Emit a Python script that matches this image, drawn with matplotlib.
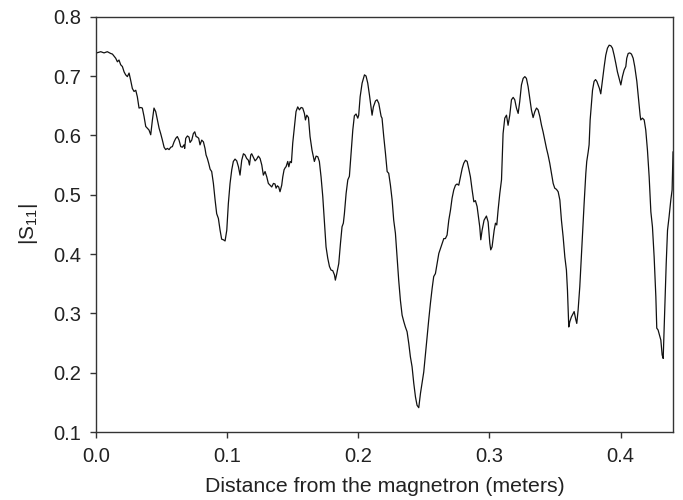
import matplotlib
matplotlib.use("Agg")
import matplotlib.pyplot as plt

plt.rcParams['font.family'] = ['Liberation Sans', 'DejaVu Sans']
plt.rcParams['mathtext.fontset'] = 'custom'
plt.rcParams['mathtext.rm'] = 'Liberation Sans'
plt.rcParams['mathtext.it'] = 'Liberation Sans'

# distance from the magnetron (m) and |S11|
dist = [
    0.0005, 0.0036, 0.0061, 0.0086, 0.0112, 0.0125, 0.0150, 0.0163, 0.0175, 0.0188,
    0.0201, 0.0214, 0.0226, 0.0239, 0.0252, 0.0264, 0.0277, 0.0290, 0.0303, 0.0315,
    0.0328, 0.0341, 0.0353, 0.0366, 0.0379, 0.0392, 0.0404, 0.0417, 0.0430, 0.0442,
    0.0455, 0.0468, 0.0481, 0.0493, 0.0506, 0.0519, 0.0531, 0.0544, 0.0557, 0.0570,
    0.0582, 0.0595, 0.0608, 0.0620, 0.0633, 0.0646, 0.0658, 0.0671, 0.0676, 0.0684,
    0.0697, 0.0709,
    0.0717, 0.0730, 0.0742, 0.0753, 0.0763, 0.0773, 0.0783, 0.0793, 0.0806, 0.0819,
    0.0831, 0.0839, 0.0849, 0.0859, 0.0870, 0.0882, 0.0895, 0.0908, 0.0920, 0.0933,
    0.0946, 0.0958, 0.0971, 0.0984, 0.0997, 0.1009, 0.1022, 0.1035, 0.1047, 0.1060,
    0.1073, 0.1086, 0.1098, 0.1111, 0.1124, 0.1136, 0.1149, 0.1162, 0.1170, 0.1180,
    0.1187, 0.1200, 0.1213, 0.1225, 0.1238, 0.1251, 0.1264, 0.1276, 0.1289, 0.1302,
    0.1314, 0.1327, 0.1340, 0.1353, 0.1365, 0.1373, 0.1383, 0.1393, 0.1403, 0.1416,
    0.1424, 0.1434, 0.1444,
    0.1449, 0.1462, 0.1470, 0.1480, 0.1490, 0.1500, 0.1513, 0.1525, 0.1538, 0.1551,
    0.1564, 0.1576, 0.1589, 0.1597, 0.1607, 0.1620, 0.1632, 0.1647, 0.1665, 0.1678,
    0.1691, 0.1703, 0.1716, 0.1729, 0.1742, 0.1754, 0.1767, 0.1780, 0.1792, 0.1805,
    0.1818, 0.1825, 0.1836, 0.1851, 0.1864, 0.1876, 0.1886, 0.1894, 0.1907, 0.1920,
    0.1932, 0.1945, 0.1958, 0.1970, 0.1983, 0.1996, 0.2003, 0.2014, 0.2029, 0.2047,
    0.2059, 0.2072, 0.2085, 0.2097, 0.2105, 0.2115, 0.2131, 0.2143, 0.2156, 0.2174,
    0.2181, 0.2194, 0.2207, 0.2220, 0.2232, 0.2245, 0.2258, 0.2270, 0.2283, 0.2296,
    0.2308, 0.2321, 0.2334, 0.2347, 0.2359, 0.2372, 0.2385, 0.2397, 0.2410, 0.2423,
    0.2436, 0.2448, 0.2461, 0.2474, 0.2486, 0.2499, 0.2512, 0.2525, 0.2537, 0.2550,
    0.2563, 0.2575, 0.2588, 0.2601, 0.2614, 0.2626, 0.2639, 0.2652, 0.2664, 0.2677,
    0.2690, 0.2703, 0.2715, 0.2728, 0.2741, 0.2753, 0.2766, 0.2779, 0.2792, 0.2804,
    0.2817, 0.2830, 0.2842, 0.2855, 0.2868, 0.2881, 0.2893, 0.2906, 0.2919,
    0.2926, 0.2934, 0.2944, 0.2959, 0.2977, 0.2990, 0.3003, 0.3010, 0.3020, 0.3036,
    0.3046, 0.3056, 0.3066, 0.3079, 0.3092, 0.3104, 0.3117, 0.3130, 0.3142, 0.3155,
    0.3168, 0.3181, 0.3193, 0.3206, 0.3219, 0.3231, 0.3244, 0.3257, 0.3270, 0.3282,
    0.3295, 0.3308, 0.3320, 0.3333, 0.3346, 0.3359, 0.3371, 0.3384, 0.3397, 0.3409,
    0.3422, 0.3435, 0.3447, 0.3460, 0.3473, 0.3486, 0.3498, 0.3511, 0.3524, 0.3537,
    0.3549, 0.3562, 0.3575, 0.3587, 0.3595, 0.3605, 0.3613, 0.3625,
    0.3646, 0.3659, 0.3666, 0.3676, 0.3689, 0.3697, 0.3709, 0.3722, 0.3735, 0.3742,
    0.3753, 0.3760, 0.3768, 0.3778, 0.3786, 0.3798, 0.3809, 0.3819, 0.3829, 0.3839,
    0.3849, 0.3862, 0.3875, 0.3887, 0.3900, 0.3913, 0.3926, 0.3938, 0.3951, 0.3964,
    0.3976, 0.3989, 0.4002, 0.4014, 0.4027, 0.4040, 0.4047, 0.4058, 0.4070, 0.4083,
    0.4096, 0.4108, 0.4124, 0.4137, 0.4149, 0.4154, 0.4167, 0.4180, 0.4192, 0.4205,
    0.4218, 0.4231, 0.4243, 0.4256, 0.4269, 0.4276, 0.4286, 0.4297, 0.4307, 0.4317,
    0.4325, 0.4332, 0.4340, 0.4348, 0.4358, 0.4370, 0.4383, 0.4393, 0.4400,
]

s11 = [
    0.739, 0.741, 0.739, 0.741, 0.738, 0.737, 0.730, 0.724, 0.727, 0.719,
    0.716, 0.707, 0.702, 0.699, 0.705, 0.693, 0.679, 0.674, 0.676, 0.665,
    0.646, 0.647, 0.646, 0.632, 0.615, 0.612, 0.609, 0.601, 0.626, 0.646,
    0.640, 0.626, 0.612, 0.603, 0.592, 0.580, 0.576, 0.578, 0.576, 0.580,
    0.581, 0.589, 0.595, 0.598, 0.592, 0.581, 0.580, 0.584, 0.578, 0.595,
    0.599, 0.597,
    0.588, 0.592, 0.603, 0.606, 0.598, 0.597, 0.595, 0.584, 0.592, 0.589,
    0.578, 0.567, 0.561, 0.553, 0.543, 0.539, 0.519, 0.491, 0.468, 0.460,
    0.440, 0.425, 0.424, 0.422, 0.440, 0.485, 0.519, 0.542, 0.556, 0.560,
    0.557, 0.547, 0.533, 0.558, 0.569, 0.567, 0.561, 0.558, 0.550, 0.567,
    0.569, 0.563, 0.557, 0.560, 0.565, 0.561, 0.550, 0.533, 0.539, 0.530,
    0.519, 0.516, 0.513, 0.519, 0.518, 0.511, 0.515, 0.513, 0.505, 0.516,
    0.530, 0.542, 0.546,
    0.547, 0.556, 0.547, 0.556, 0.554, 0.587, 0.615, 0.640, 0.648, 0.643,
    0.647, 0.646, 0.637, 0.626, 0.634, 0.630, 0.598, 0.575, 0.556, 0.565,
    0.564, 0.556, 0.530, 0.497, 0.452, 0.412, 0.393, 0.379, 0.373, 0.372,
    0.365, 0.356, 0.367, 0.384, 0.418, 0.446, 0.452, 0.468, 0.502, 0.525,
    0.531, 0.570, 0.609, 0.633, 0.636, 0.629, 0.634, 0.665, 0.688, 0.702,
    0.700, 0.688, 0.668, 0.648, 0.634, 0.648, 0.658, 0.660, 0.654, 0.632,
    0.629, 0.598, 0.570, 0.539, 0.536, 0.516, 0.491, 0.457, 0.435, 0.395,
    0.356, 0.322, 0.297, 0.286, 0.277, 0.269, 0.249, 0.227, 0.210, 0.182,
    0.159, 0.145, 0.141, 0.165, 0.182, 0.201, 0.232, 0.261, 0.289, 0.317,
    0.342, 0.362, 0.367, 0.384, 0.401, 0.409, 0.418, 0.426, 0.426, 0.432,
    0.457, 0.474, 0.494, 0.508, 0.516, 0.518, 0.516, 0.530, 0.544, 0.553,
    0.558, 0.556, 0.544, 0.530, 0.508, 0.488, 0.490, 0.480, 0.457,
    0.446, 0.424, 0.440, 0.457, 0.464, 0.454, 0.418, 0.407, 0.412, 0.440,
    0.452, 0.449, 0.474, 0.502, 0.525, 0.603, 0.629, 0.634, 0.617, 0.634,
    0.660, 0.664, 0.660, 0.646, 0.637, 0.657, 0.685, 0.696, 0.699, 0.696,
    0.682, 0.662, 0.643, 0.630, 0.640, 0.646, 0.643, 0.632, 0.617, 0.606,
    0.592, 0.578, 0.567, 0.553, 0.536, 0.519, 0.511, 0.509, 0.505, 0.491,
    0.457, 0.429, 0.395, 0.373, 0.339, 0.277, 0.286, 0.294,
    0.303, 0.289, 0.283, 0.305, 0.345, 0.379, 0.429, 0.485, 0.536, 0.556,
    0.572, 0.584, 0.626, 0.654, 0.676, 0.691, 0.694, 0.691, 0.685, 0.679,
    0.670, 0.693, 0.716, 0.735, 0.747, 0.752, 0.751, 0.747, 0.735, 0.721,
    0.707, 0.696, 0.685, 0.699, 0.710, 0.716, 0.730, 0.738, 0.739, 0.737,
    0.730, 0.716, 0.691, 0.662, 0.634, 0.626, 0.629, 0.626, 0.609, 0.575,
    0.530, 0.471, 0.446, 0.395, 0.328, 0.275, 0.272, 0.263, 0.255, 0.230,
    0.224, 0.272, 0.328, 0.384, 0.440, 0.463, 0.491, 0.508, 0.572,
]

xticks = [0.0, 0.1, 0.2, 0.3, 0.4]
yticks = [0.1, 0.2, 0.3, 0.4, 0.5, 0.6, 0.7, 0.8]

fig = plt.figure(figsize=(6.83, 5.0), dpi=100)
ax = fig.add_axes([0.1406, 0.136, 0.8448, 0.8306])

ax.plot(dist, s11, color="#111111", lw=0.9)

ax.set_xlim(0, 0.44)
ax.set_ylim(0.1, 0.8)
ax.set_xticks(xticks)
ax.set_xticklabels([f"{t:.1f}" for t in xticks])
ax.set_yticks(yticks)
ax.set_yticklabels([f"{t:.1f}" for t in yticks])

for s in ax.spines.values():
    s.set_color("#333333")
    s.set_linewidth(1.0)
ax.tick_params(direction="out", length=4, width=1, color="#333333",
               labelsize=14.5, labelcolor="#222222", pad=6.5)

ax.set_xlabel("Distance from the magnetron (meters)", fontsize=15.3, color="#222222", labelpad=8)
ax.set_ylabel("|S$_{11}$|", fontsize=15, color="#222222", labelpad=10)

fig.savefig("out.png", dpi=100)
